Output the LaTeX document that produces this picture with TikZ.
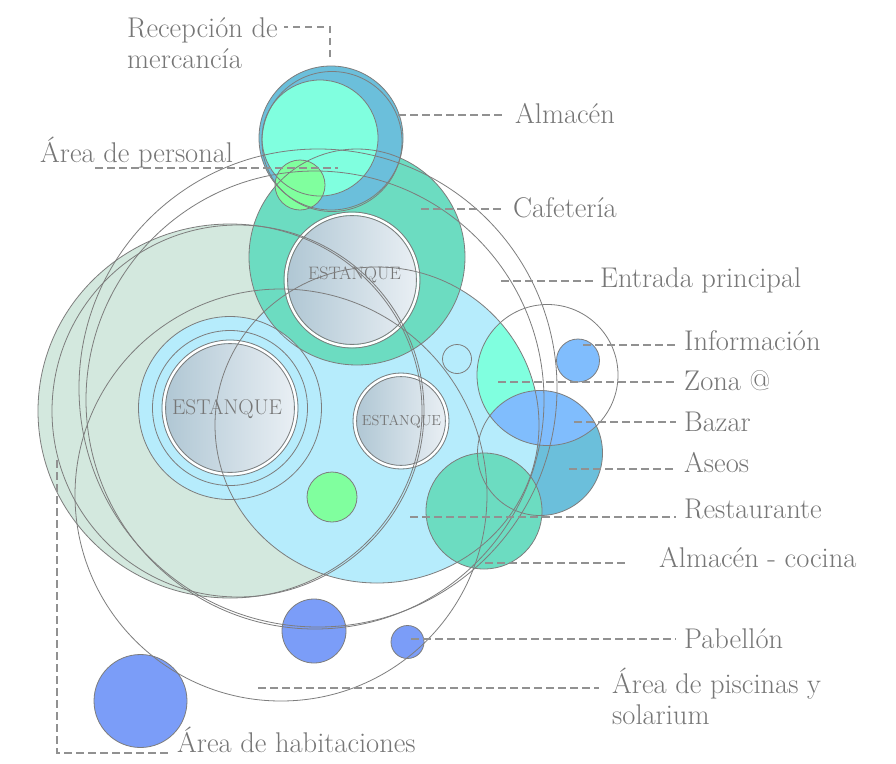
\documentclass[tikz,border=0pt]{standalone}
\usetikzlibrary{calc}
\definecolor{cGreenGray}{RGB}{211,232,222}
\definecolor{cLightBlue}{RGB}{182,236,252}
\definecolor{cTeal}{RGB}{108,220,193}
\definecolor{cSteel}{RGB}{107,191,219}
\definecolor{cAqua}{RGB}{128,255,223}
\definecolor{cGreen}{RGB}{128,255,158}
\definecolor{cPeri}{RGB}{123,157,248}
\definecolor{cSky}{RGB}{128,189,253}
\definecolor{cLine}{RGB}{125,125,125}
\definecolor{cText}{RGB}{118,118,118}
\definecolor{cLead}{RGB}{145,145,145}
\definecolor{estD}{RGB}{176,199,212}
\definecolor{estL}{RGB}{233,239,244}
\tikzset{
  bub/.style={draw=cLine, line width=0.8pt},
  leader/.style={draw=cLead, line width=1.1pt, dash pattern=on 7.5pt off 4.5pt},
  lbl/.style={anchor=base west, inner sep=0pt, text=cText, font=\fontsize{28.5}{31}\selectfont},
  pondtxt/.style={inner sep=0pt, text=cText},
}
\begin{document}
\begin{tikzpicture}[x=1pt,y=-1pt]
\useasboundingbox (0,0) rectangle (896,763);
\fill[white] (0,0) rectangle (896,763);

% ---------- fills ----------
\fill[cGreenGray] (230,411) ellipse [x radius=192pt, y radius=187pt];
\fill[cSteel] (540,453) circle [radius=62.5pt];
\fill[cLightBlue] (377,425) ellipse [x radius=162pt, y radius=158pt];
\begin{scope}
  \clip (377,425) ellipse [x radius=162pt, y radius=158pt];
  \fill[cAqua] (547.5,375) circle [radius=70.5pt];
\end{scope}
\begin{scope}
  \clip (547.5,375) circle [radius=70.5pt];
  \fill[cSky] (540,453) circle [radius=62.5pt];
\end{scope}
\fill[cTeal] (357,257) circle [radius=108pt];
\fill[cSteel] (331,138) circle [radius=72pt];
\fill[cAqua] (320,138) circle [radius=58pt];
\fill[cGreen] (300,185) circle [radius=25pt];
\fill[cTeal] (484,511) circle [radius=58pt];
\fill[cLightBlue] (230,408) circle [radius=91.5pt];
\fill[cGreen] (332,497) circle [radius=25pt];
\fill[cSky] (578,360.5) circle [radius=21.5pt];
\fill[cPeri] (314,631) circle [radius=32pt];
\fill[cPeri] (407.5,642) circle [radius=16.5pt];
\fill[cPeri] (140.5,701) circle [radius=46.5pt];

% ---------- ponds ----------
\foreach \cx/\cy/\r in {230/408/68, 352/280/68, 401/421/48}{
  \shade[left color=estD, right color=estL] (\cx,\cy) circle [radius=\r pt-3.5pt];
  \draw[white, line width=2.6pt] (\cx,\cy) circle [radius=\r pt-1.8pt];
  \draw[cLine, line width=0.8pt] (\cx,\cy) circle [radius=\r pt];
  \draw[cLine, line width=0.8pt] (\cx,\cy) circle [radius=\r pt-3.6pt];
}
\node[pondtxt, font=\fontsize{21.3}{24}\selectfont] (est1) at (227,409) {ESTANQUE};
\node[pondtxt, font=\fontsize{18}{20}\selectfont] (est2) at (354.5,275) {ESTANQUE};
\node[pondtxt, font=\fontsize{14.5}{16}\selectfont] (est3) at (401.5,422) {ESTANQUE};

% ---------- outlines ----------
\draw[bub] (230,411) ellipse [x radius=192pt, y radius=187pt];
\draw[bub] (238,411) ellipse [x radius=186pt, y radius=186pt];
\draw[bub] (377,425) ellipse [x radius=162pt, y radius=158pt];
\draw[bub] (357,257) circle [radius=108pt];
\draw[bub] (331,138) circle [radius=72pt];
\draw[bub] (332,141.5) circle [radius=70pt];
\draw[bub] (320,138) circle [radius=58pt];
\draw[bub] (300,185) circle [radius=25pt];
\draw[bub] (484,511) circle [radius=58pt];
\draw[bub] (540,453) circle [radius=62.5pt];
\draw[bub] (547.5,375) circle [radius=70.5pt];
\draw[bub] (230,408) circle [radius=91.5pt];
\draw[bub] (230,408) circle [radius=77.5pt];
\draw[bub] (332,497) circle [radius=25pt];
\draw[bub] (457,359) circle [radius=14.5pt];
\draw[bub] (578,360.5) circle [radius=21.5pt];
\draw[bub] (314,631) circle [radius=32pt];
\draw[bub] (407.5,642) circle [radius=16.5pt];
\draw[bub] (140.5,701) circle [radius=46.5pt];
\draw[bub] (318,388) circle [radius=239pt];
\draw[bub] (315,400) circle [radius=229pt];
\draw[bub] (281,495) circle [radius=206pt];

% ---------- labels ----------
\node[lbl, align=left] (lRec) at (127,68) {Recepción de\\mercancía};
\node[lbl] (lAlm) at (515,123) {Almacén};
\node[lbl] (lPer) at (40,162) {Área de personal};
\node[lbl] (lCaf) at (513,217) {Cafetería};
\node[lbl] (lEnt) at (600,287) {Entrada principal};
\node[lbl] (lInf) at (684,350) {Información};
\node[lbl] (lZon) at (684,390) {Zona @};
\node[lbl] (lBaz) at (684,431) {Bazar};
\node[lbl] (lAse) at (684,472) {Aseos};
\node[lbl] (lRes) at (684,518) {Restaurante};
\node[lbl] (lAco) at (659,567) {Almacén - cocina};
\node[lbl] (lPab) at (684,648) {Pabellón};
\node[lbl, align=left] (lPis) at (612,724) {Área de piscinas y\\solarium};
\node[lbl] (lHab) at (177,752) {Área de habitaciones};

% ---------- leaders ----------
\coordinate (pRec) at (330,57);
\coordinate (cRec) at (330,27);
\draw[leader] (pRec) -- (cRec) -- ([xshift=6pt]cRec -| lRec.east);
\coordinate (pAlm) at (398,115);
\draw[leader, shorten >=10pt] (pAlm) -- (pAlm -| lAlm.west);
\coordinate (pPer) at (338,168);
\coordinate (cPer) at (95,168);
\draw[leader] (cPer) -- (pPer);
\coordinate (pCaf) at (421,209);
\draw[leader, shorten >=9pt] (pCaf) -- (pCaf -| lCaf.west);
\coordinate (pEnt) at (501,281);
\draw[leader, shorten >=6pt] (pEnt) -- (pEnt -| lEnt.west);
\coordinate (pInf) at (583,345);
\draw[leader, shorten >=8pt] (pInf) -- (pInf -| lInf.west);
\coordinate (pZon) at (498,382);
\draw[leader, shorten >=8pt] (pZon) -- (pZon -| lZon.west);
\coordinate (pBaz) at (574,422);
\draw[leader, shorten >=8pt] (pBaz) -- (pBaz -| lBaz.west);
\coordinate (pAse) at (569,469);
\draw[leader, shorten >=8pt] (pAse) -- (pAse -| lAse.west);
\coordinate (pRes) at (410,517);
\draw[leader, shorten >=8pt] (pRes) -- (pRes -| lRes.west);
\coordinate (pAco) at (485,563);
\draw[leader, shorten >=30pt] (pAco) -- (pAco -| lAco.west);
\coordinate (pPab) at (411,639);
\draw[leader, shorten >=8pt] (pPab) -- (pPab -| lPab.west);
\coordinate (pPis) at (258,688);
\draw[leader, shorten >=13pt] (pPis) -- (pPis -| lPis.west);
\coordinate (pHab) at (57,460);
\coordinate (cHab) at (57,753);
\draw[leader] (pHab) -- (cHab) -- ([xshift=-9pt]cHab -| lHab.west);
\end{tikzpicture}
\end{document}
